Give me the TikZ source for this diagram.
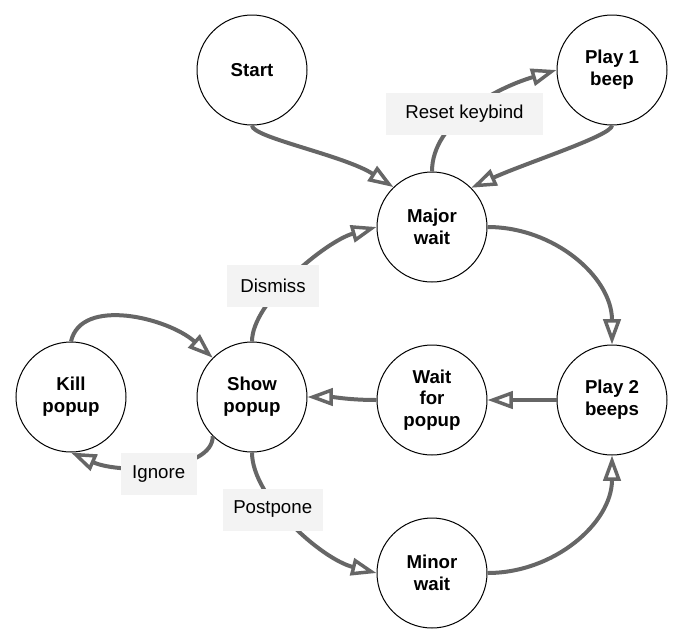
\documentclass[tikz,border=0pt]{standalone}
\usepackage{fontspec}
\setmainfont{Liberation Sans}
\usetikzlibrary{arrows.meta}
\definecolor{edgegray}{HTML}{666666}
\definecolor{labelgray}{HTML}{F3F3F3}
\tikzset{
  state/.style={circle, draw=black, line width=0.75pt, fill=white, minimum size=82.5pt, inner sep=0pt,
    align=center, font=\fontsize{14}{16.3}\selectfont\bfseries},
  trans/.style={draw=edgegray, line width=3pt, -{Triangle[length=19pt, width=13pt, fill=white, line width=2.6pt]}},
  lbl/.style={fill=labelgray, minimum height=31.5pt, inner sep=0pt, font=\fontsize{14}{16.3}\selectfont}
}
\begin{document}
\begin{tikzpicture}[x=0.75pt, y=-0.75pt]
\useasboundingbox (0,0) rectangle (685,643);
\node[state] (start) at (252,70) {Start};
\node[state] (play1) at (612,70) {Play 1\\beep};
\node[state] (major) at (432,227) {Major\\wait};
\node[state] (kill) at (71,397) {Kill\\popup};
\node[state] (show) at (252,397) {Show\\popup};
\node[state] (waitp) at (432,400) {Wait\\for\\popup};
\node[state] (play2) at (612,400) {Play 2\\beeps};
\node[state] (minor) at (432,573) {Minor\\wait};

\draw[trans] (start.south) .. controls +(0,12) and +(-50,-32) .. (major.134);
\draw[trans] (major.north) .. controls +(0,-50) and +(-60,18) .. (play1.west);
\draw[trans] (play1.south) .. controls +(0,10) and +(55,-25) .. (major.45);
\draw[trans] (major.east) to[out=0, in=90] (play2.north);
\draw[trans] (play2.west) -- (waitp.east);
\draw[trans] (waitp.west) to[out=180, in=0] (show.east);
\draw[trans] (show.north) .. controls +(0,-40) and +(-50,14) .. (major.west);
\draw[trans] (kill.north) .. controls +(10,-45) and +(-45,-40) .. (show.135);
\draw[trans] (show.-135) .. controls +(0,35) and +(50,22) .. (kill.south);
\draw[trans] (show.south) .. controls +(0,45) and +(-55,-14) .. (minor.west);
\draw[trans] (minor.east) to[out=0, in=-90] (play2.south);

\node[lbl, minimum width=117.75pt] (lreset) at (464.5,114) {Reset keybind};
\node[lbl, minimum width=69pt] (ldismiss) at (273,286) {Dismiss};
\node[lbl, minimum width=57pt] (lignore) at (158.7,473.7) {Ignore};
\node[lbl, minimum width=75pt] (lpostpone) at (272.7,509.5) {Postpone};
\end{tikzpicture}
\end{document}
